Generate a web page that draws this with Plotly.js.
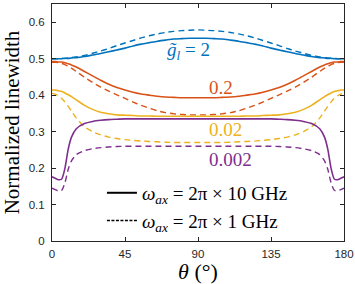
<!DOCTYPE html>
<html>
<head>
<meta charset="utf-8">
<script src="https://cdn.plot.ly/plotly-3.0.1.min.js"></script>
<style>html,body{margin:0;padding:0;background:#fff;}#chart{width:355px;height:284px;}</style>
</head>
<body>
<div id="chart"></div>
<script>
const theta = [0,2,4,6,8,10,12,15,20,25,30,35,40,45,50,55,60,65,70,75,80,85,90,95,100,105,110,115,120,125,130,135,140,145,150,155,160,165,168,170,172,174,176,178,180];

const blueSolid = [0.500,0.500,0.500,0.500,0.501,0.501,0.502,0.503,0.506,0.510,0.514,0.519,0.524,0.529,0.535,0.540,0.544,0.548,0.551,0.554,0.555,0.556,0.556,
  0.556,0.555,0.554,0.551,0.548,0.544,0.540,0.535,0.529,0.524,0.519,0.514,0.510,0.506,0.503,0.502,0.501,0.501,0.500,0.500,0.500,0.500];
const blueDash = [0.500,0.500,0.500,0.501,0.501,0.502,0.503,0.505,0.509,0.515,0.521,0.528,0.536,0.543,0.550,0.557,0.563,0.568,0.572,0.575,0.577,0.578,0.579,
  0.578,0.577,0.575,0.572,0.568,0.563,0.557,0.550,0.543,0.536,0.528,0.521,0.515,0.509,0.505,0.503,0.502,0.501,0.501,0.500,0.500,0.500];
const orangeSolid = [0.492,0.492,0.491,0.491,0.489,0.486,0.483,0.477,0.465,0.453,0.441,0.430,0.421,0.414,0.408,0.403,0.400,0.397,0.395,0.394,0.393,0.393,0.393,
  0.393,0.393,0.394,0.395,0.397,0.400,0.403,0.408,0.414,0.421,0.430,0.441,0.453,0.465,0.477,0.483,0.486,0.489,0.491,0.491,0.492,0.492];
const orangeDash = [0.490,0.490,0.489,0.487,0.484,0.479,0.474,0.465,0.449,0.435,0.422,0.411,0.401,0.391,0.381,0.372,0.364,0.357,0.352,0.349,0.347,0.346,0.346,
  0.346,0.347,0.349,0.352,0.357,0.364,0.372,0.381,0.391,0.401,0.411,0.422,0.435,0.449,0.465,0.474,0.479,0.484,0.487,0.489,0.490,0.490];
const yellowSolid = [0.414,0.414,0.412,0.410,0.406,0.401,0.396,0.387,0.372,0.361,0.353,0.349,0.346,0.345,0.344,0.343,0.343,0.342,0.342,0.342,0.342,0.342,0.342,
  0.342,0.342,0.342,0.342,0.342,0.343,0.343,0.344,0.345,0.346,0.349,0.353,0.361,0.372,0.387,0.396,0.401,0.406,0.410,0.412,0.414,0.414];
const yellowDash = [0.405,0.403,0.398,0.391,0.381,0.369,0.356,0.337,0.313,0.300,0.291,0.285,0.281,0.278,0.276,0.274,0.273,0.272,0.271,0.270,0.270,0.270,0.270,
  0.270,0.270,0.270,0.271,0.272,0.273,0.274,0.276,0.278,0.281,0.285,0.291,0.300,0.313,0.337,0.356,0.369,0.381,0.391,0.398,0.403,0.405];
const purpleSolid = [0.176,0.172,0.168,0.170,0.200,0.252,0.285,0.308,0.322,0.328,0.331,0.333,0.334,0.335,0.335,0.335,0.335,0.335,0.335,0.335,0.335,0.335,0.335,
  0.335,0.335,0.335,0.335,0.335,0.335,0.335,0.335,0.335,0.334,0.333,0.331,0.328,0.322,0.308,0.285,0.252,0.200,0.170,0.168,0.172,0.176];
const purpleDash = [0.145,0.141,0.137,0.139,0.160,0.197,0.220,0.237,0.248,0.253,0.256,0.258,0.259,0.260,0.260,0.260,0.260,0.260,0.260,0.260,0.260,0.260,0.260,
  0.260,0.260,0.260,0.260,0.260,0.260,0.260,0.260,0.260,0.259,0.258,0.256,0.253,0.248,0.237,0.220,0.197,0.160,0.139,0.137,0.141,0.145];

const xTicks = [0,45,90,135,180];
const yTicks = [0,0.1,0.2,0.3,0.4,0.5,0.6];
const curveLabels = ['<i>g̃<sub>l</sub></i> = 2','0.2','0.02','0.002'];
const labelX = [84,95.5,95.5,95.5];
const labelY = [0.52,0.42,0.307,0.223];
const legendNames = ['<i>ω<sub>ax</sub></i> = 2π × 10 GHz','<i>ω<sub>ax</sub></i> = 2π × 1 GHz'];

const C = {blue:'#0072BD', orange:'#D95319', yellow:'#EDB120', purple:'#7E2F8E'};
const DASH = '6px,4px';
function tr(y, color, dashed){
  return {x: theta, y: y, mode:'lines', showlegend:false, hoverinfo:'skip',
    line:{color: color, width: dashed?1.4:1.6, dash: dashed?DASH:'solid', shape:'spline', smoothing:0.6}};
}
const data = [
  tr(blueDash,C.blue,true), tr(blueSolid,C.blue,false),
  tr(orangeDash,C.orange,true), tr(orangeSolid,C.orange,false),
  tr(yellowDash,C.yellow,true), tr(yellowSolid,C.yellow,false),
  tr(purpleDash,C.purple,true), tr(purpleSolid,C.purple,false),
  {x:[-50,-40], y:[-1,-1], mode:'lines', name: legendNames[0], line:{color:'#000', width:2}},
  {x:[-50,-40], y:[-1,-1], mode:'lines', name: legendNames[1], line:{color:'#000', width:1.4, dash:'3px,1.5px'}}
];
const colors = [C.blue, C.orange, C.yellow, C.purple];
const annotations = curveLabels.map((t,i)=>({
  x: labelX[i], y: labelY[i], xref:'x', yref:'y', text: t, showarrow:false,
  xanchor: i===0?'center':'left', yanchor:'middle',
  font:{family:'Liberation Serif, serif', size:19, color: colors[i]}
}));
const axCommon = {showgrid:false, zeroline:false, showline:true, mirror:'ticks', linecolor:'#262626', linewidth:1,
  ticks:'inside', ticklen:4, tickcolor:'#262626', tickwidth:1,
  tickfont:{family:'Liberation Sans, Arial, sans-serif', size:11.5, color:'#262626'}};
const layout = {
  width:355, height:284, margin:{l:52, r:11, t:4, b:43},
  paper_bgcolor:'#fff', plot_bgcolor:'#fff',
  xaxis: Object.assign({}, axCommon, {range:[0,180], tickvals:xTicks, ticktext:xTicks.map(String), ticklabelstandoff:2,
    title:{text:'<i>θ</i> (°)', font:{family:'Liberation Serif, serif', size:22, color:'#000'}, standoff:3}}),
  yaxis: Object.assign({}, axCommon, {range:[0,0.65], tickvals:yTicks, ticktext:yTicks.map(v=>v===0?'0':v.toFixed(1)), ticklabelstandoff:4,
    title:{text:'Normalized linewidth', font:{family:'Liberation Serif, serif', size:21, color:'#000'}, standoff:4}}),
  legend:{x:0.171, y:0.283, xanchor:'left', yanchor:'top', bgcolor:'rgba(0,0,0,0)', borderwidth:0,
    font:{family:'Liberation Serif, serif', size:19, color:'#000'}, tracegroupgap:0, itemwidth:30},
  annotations: annotations
};
Plotly.newPlot('chart', data, layout, {displayModeBar:false, staticPlot:true});
</script>
</body>
</html>
